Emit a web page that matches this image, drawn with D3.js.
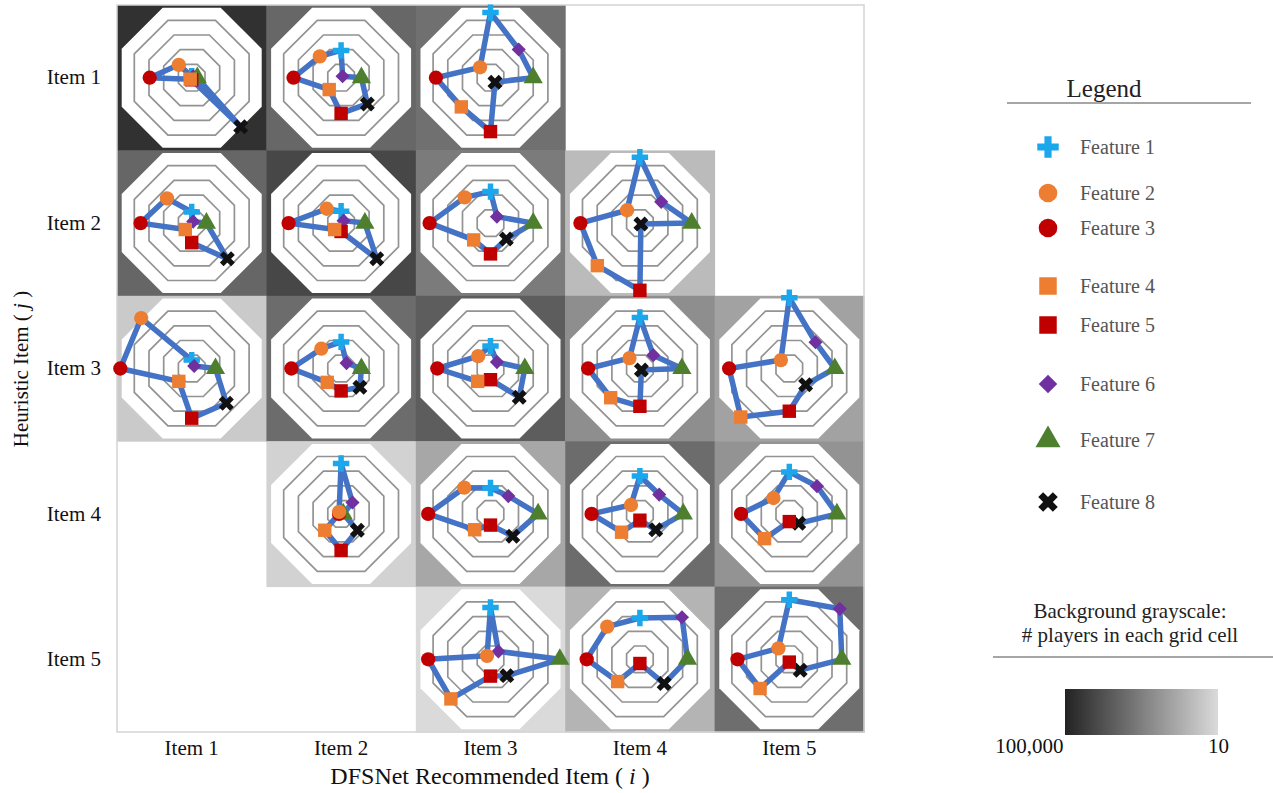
<!DOCTYPE html>
<html>
<head>
<meta charset="utf-8">
<script src="https://cdn.jsdelivr.net/npm/d3@7"></script>
<style>
  body { margin: 0; background: #fff; }
  text { font-family: "Liberation Serif", "Times New Roman", serif; }
</style>
</head>
<body>
<div id="chart"></div>
<script>
// categories
const colItems = ['Item 1', 'Item 2', 'Item 3', 'Item 4', 'Item 5'];
const rowItems = ['Item 1', 'Item 2', 'Item 3', 'Item 4', 'Item 5'];
const features = ['Feature 1', 'Feature 2', 'Feature 3', 'Feature 4', 'Feature 5', 'Feature 6', 'Feature 7', 'Feature 8'];
// axis direction of each feature, degrees clockwise from top
const featureAngles = [0, 315, 270, 225, 180, 45, 90, 135];
const ringLevels = [0.19, 0.4, 0.61, 0.82];

// grid cells that have data: heuristic row / recommended col
const cellRows = ['Item 1', 'Item 1', 'Item 1',
  'Item 2', 'Item 2', 'Item 2', 'Item 2',
  'Item 3', 'Item 3', 'Item 3', 'Item 3', 'Item 3',
  'Item 4', 'Item 4', 'Item 4', 'Item 4',
  'Item 5', 'Item 5', 'Item 5'];
const cellCols = ['Item 1', 'Item 2', 'Item 3',
  'Item 1', 'Item 2', 'Item 3', 'Item 4',
  'Item 1', 'Item 2', 'Item 3', 'Item 4', 'Item 5',
  'Item 2', 'Item 3', 'Item 4', 'Item 5',
  'Item 3', 'Item 4', 'Item 5'];
// # players in each grid cell (background grayscale)
const cellPlayers = [49000, 3200, 2100,
  3500, 16000, 1200, 48,
  22, 2600, 5500, 470, 170,
  15, 130, 2600, 360,
  10, 69, 2350];
// feature values per cell, Feature 1..8
const cellValues = [
  [0.02, 0.26, 0.60, 0.03, 0.03, 0.03, 0.08, 0.99],
  [0.39, 0.43, 0.68, 0.24, 0.51, 0.03, 0.29, 0.53],
  [0.93, 0.21, 0.78, 0.59, 0.77, 0.57, 0.61, 0.09],
  [0.16, 0.50, 0.73, 0.13, 0.28, 0.03, 0.21, 0.72],
  [0.17, 0.29, 0.75, 0.13, 0.12, 0.05, 0.34, 0.72],
  [0.45, 0.52, 0.87, 0.34, 0.44, 0.13, 0.61, 0.32],
  [0.94, 0.26, 0.85, 0.86, 0.96, 0.43, 0.74, 0.02],
  [0.12, 1.02, 1.02, 0.26, 0.71, 0.05, 0.34, 0.70],
  [0.38, 0.40, 0.71, 0.28, 0.32, 0.11, 0.29, 0.38],
  [0.32, 0.25, 0.76, 0.26, 0.16, 0.13, 0.49, 0.58],
  [0.73, 0.21, 0.74, 0.59, 0.54, 0.27, 0.60, 0.03],
  [1.01, 0.17, 0.86, 0.98, 0.61, 0.53, 0.65, 0.33],
  [0.72, 0.04, 0.03, 0.33, 0.52, 0.23, 0.03, 0.33],
  [0.37, 0.53, 0.89, 0.32, 0.16, 0.36, 0.68, 0.45],
  [0.54, 0.18, 0.69, 0.37, 0.09, 0.39, 0.62, 0.32],
  [0.60, 0.32, 0.69, 0.50, 0.11, 0.56, 0.68, 0.19],
  [0.74, 0.07, 0.89, 0.80, 0.24, 0.16, 0.99, 0.33],
  [0.59, 0.66, 0.76, 0.45, 0.06, 0.85, 0.68, 0.49],
  [0.85, 0.22, 0.74, 0.59, 0.04, 1.02, 0.75, 0.22]
];
const colorbarTicks = [100000, 10];

const W = 1273, H = 793;
const featureColors = ['#1aa7ec', '#ed7d31', '#c00000', '#ed7d31', '#c00000', '#7030a0', '#4d7f2e', '#111111'];
const featureShapes = [d3.symbolCross, d3.symbolCircle, d3.symbolCircle, d3.symbolSquare, d3.symbolSquare, d3.symbolSquare, d3.symbolTriangle, d3.symbolCross];
const featureRot = [0, 0, 0, 0, 0, 45, 0, 45];
const featureSize = [150, 160, 160, 180, 180, 100, 160, 140];
const drawOrder = [0, 5, 6, 7, 4, 2, 3, 1];

const svg = d3.select('#chart').append('svg').attr('width', W).attr('height', H);

const x = d3.scaleBand().domain(colItems).range([117, 864]);
const y = d3.scaleBand().domain(rowItems).range([5, 732]);
const r = d3.scaleLinear().domain([0, 1]).range([0, 70]);
const gray = d3.scaleLog().domain([10, 100000]).range(['#dadada', '#232323']);

// octagon gridline, flat side facing each feature axis
function octagon(level) {
  const R = r(level) / Math.cos(Math.PI / 8);
  const pts = d3.range(8).map(k => {
    const a = (k * 45 + 22.5) * Math.PI / 180;
    return [R * Math.sin(a), -R * Math.cos(a)];
  });
  return 'M' + pts.join('L') + 'Z';
}
function pos(v, i) {
  const a = featureAngles[i] * Math.PI / 180;
  return [r(v) * Math.sin(a), -r(v) * Math.cos(a)];
}

// grid backgrounds
svg.append('g').selectAll('rect')
  .data(cellPlayers)
  .join('rect')
  .attr('x', (d, i) => x(cellCols[i]))
  .attr('y', (d, i) => y(cellRows[i]))
  .attr('width', x.bandwidth() + 0.5)
  .attr('height', y.bandwidth() + 0.5)
  .attr('fill', d => gray(d));

svg.append('rect')
  .attr('x', 117).attr('y', 5)
  .attr('width', 864 - 117).attr('height', 732 - 5)
  .attr('fill', 'none').attr('stroke', '#d4d4d4').attr('stroke-width', 1.5);

// radar charts
const cells = svg.append('g').selectAll('g')
  .data(cellValues)
  .join('g')
  .attr('transform', (d, i) => `translate(${x(cellCols[i]) + x.bandwidth() / 2},${y(cellRows[i]) + y.bandwidth() / 2})`);

cells.append('path').attr('d', octagon(1.0)).attr('fill', '#fff');
cells.selectAll('.ring')
  .data(ringLevels)
  .join('path')
  .attr('class', 'ring')
  .attr('d', d => octagon(d))
  .attr('fill', 'none')
  .attr('stroke', '#939393')
  .attr('stroke-width', 1.7);

const order = d3.range(8).sort((a, b) => featureAngles[a] - featureAngles[b]);
cells.append('path')
  .attr('d', vals => d3.line().curve(d3.curveLinearClosed)(order.map(i => pos(vals[i], i))))
  .attr('fill', 'none')
  .attr('stroke', '#4472c4')
  .attr('stroke-width', 5.5)
  .attr('stroke-linejoin', 'round');

cells.each(function (vals) {
  d3.select(this).selectAll('.mark')
    .data(drawOrder)
    .join('path')
    .attr('class', 'mark')
    .attr('d', i => d3.symbol(featureShapes[i], featureSize[i])())
    .attr('transform', i => {
      const p = pos(vals[i], i);
      return `translate(${p[0]},${p[1]}) rotate(${featureRot[i]})`;
    })
    .attr('fill', i => featureColors[i]);
});

// axes
const xAxis = svg.append('g')
  .attr('transform', 'translate(0,732)')
  .call(d3.axisBottom(x).tickSize(0).tickPadding(8));
xAxis.select('.domain').remove();
xAxis.selectAll('text').attr('font-size', 21).attr('fill', '#111')
  .style('font-family', '"Liberation Serif", serif');

const yAxis = svg.append('g')
  .attr('transform', 'translate(117,0)')
  .call(d3.axisLeft(y).tickSize(0).tickPadding(16));
yAxis.select('.domain').remove();
yAxis.selectAll('text').attr('font-size', 21).attr('fill', '#111')
  .style('font-family', '"Liberation Serif", serif');

const xTitle = svg.append('text')
  .attr('x', 490).attr('y', 784)
  .attr('text-anchor', 'middle').attr('font-size', 24).attr('fill', '#111');
xTitle.append('tspan').text('DFSNet Recommended Item ( ');
xTitle.append('tspan').attr('font-style', 'italic').text('i');
xTitle.append('tspan').text(' )');

const yTitle = svg.append('text')
  .attr('transform', 'translate(28,369) rotate(-90)')
  .attr('text-anchor', 'middle').attr('font-size', 21).attr('fill', '#111');
yTitle.append('tspan').text('Heuristic Item ( ');
yTitle.append('tspan').attr('font-style', 'italic').text('j');
yTitle.append('tspan').text(' )');

// legend
svg.append('text').attr('x', 1104).attr('y', 97)
  .attr('text-anchor', 'middle').attr('font-size', 25).attr('fill', '#222').text('Legend');
svg.append('line').attr('x1', 1007).attr('x2', 1251).attr('y1', 103).attr('y2', 103)
  .attr('stroke', '#888').attr('stroke-width', 1.5);

const legendY = [147, 193, 228, 286, 325, 384, 440, 502];
const legend = svg.append('g').selectAll('g')
  .data(features)
  .join('g')
  .attr('transform', (d, i) => `translate(1048,${legendY[i]})`);
legend.append('path')
  .attr('d', (d, i) => d3.symbol(featureShapes[i], featureSize[i] * 1.7)())
  .attr('transform', (d, i) => `rotate(${featureRot[i]})`)
  .attr('fill', (d, i) => featureColors[i]);
legend.append('text')
  .attr('x', 32).attr('dy', '0.35em')
  .attr('font-size', 20).attr('fill', '#555')
  .text(d => d);

// colorbar
svg.append('text').attr('x', 1130).attr('y', 618)
  .attr('text-anchor', 'middle').attr('font-size', 21).attr('fill', '#222').text('Background grayscale:');
svg.append('text').attr('x', 1130).attr('y', 642)
  .attr('text-anchor', 'middle').attr('font-size', 21).attr('fill', '#222').text('# players in each grid cell');
svg.append('line').attr('x1', 993).attr('x2', 1273).attr('y1', 657).attr('y2', 657)
  .attr('stroke', '#888').attr('stroke-width', 1.5);

const defs = svg.append('defs');
const grad = defs.append('linearGradient').attr('id', 'cbar');
grad.selectAll('stop')
  .data(d3.range(0, 1.01, 0.1))
  .join('stop')
  .attr('offset', d => d)
  .attr('stop-color', d => gray(Math.pow(10, 5 - 4 * d)));

const cb = d3.scaleLog().domain([100000, 10]).range([1065, 1218]);
svg.append('rect').attr('x', 1065).attr('y', 689).attr('width', 153).attr('height', 46)
  .attr('fill', 'url(#cbar)');
const cbAxis = svg.append('g').attr('transform', 'translate(0,735)')
  .call(d3.axisBottom(cb).tickValues(colorbarTicks).tickSize(0).tickPadding(3).tickFormat(d3.format(',')));
cbAxis.select('.domain').remove();
cbAxis.selectAll('text').attr('font-size', 21).attr('fill', '#111')
  .style('font-family', '"Liberation Serif", serif')
  .attr('text-anchor', (d, i) => i === 0 ? 'end' : 'middle')
  .attr('dx', (d, i) => i === 0 ? -2 : 0);
</script>
</body>
</html>
